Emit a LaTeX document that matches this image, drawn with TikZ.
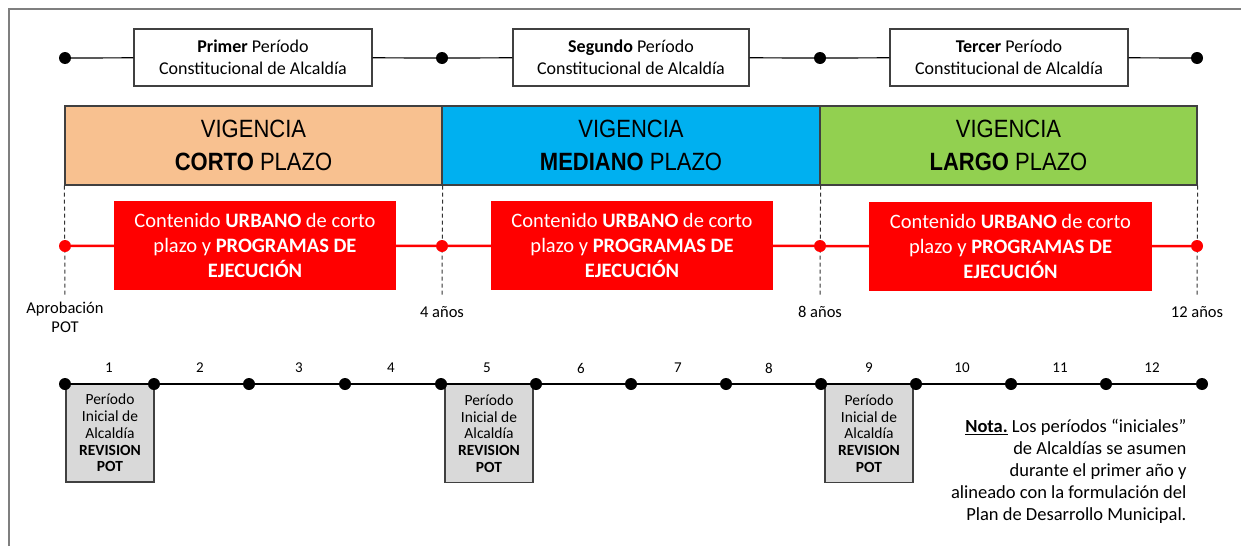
\documentclass[tikz,border=0pt]{standalone}
\usepackage{fontspec}
\setmainfont{Carlito}
\newfontfamily\narrowfont[FakeStretch=0.88]{Liberation Sans}
\definecolor{vigcorto}{RGB}{248,193,144}
\definecolor{vigmediano}{RGB}{0,176,240}
\definecolor{viglargo}{RGB}{146,208,80}
\definecolor{revgray}{RGB}{217,217,217}
\definecolor{boxgray}{RGB}{64,64,64}
\definecolor{framegray}{RGB}{127,127,127}
\begin{document}
\begin{tikzpicture}[x=1pt,y=-1pt,
dot/.style={circle, fill, inner sep=0pt, minimum size=12pt},
reddot/.style={circle, fill=red, inner sep=0pt, minimum size=12pt},
periodo/.style={draw=boxgray, line width=1.2pt, fill=white, minimum width=238pt, minimum height=57pt, align=center, inner sep=0pt, font=\fontsize{18}{22}\selectfont},
vigencia/.style={draw=boxgray, line width=1.2pt, minimum width=377pt, minimum height=79pt, align=center, inner sep=0pt, font=\narrowfont\fontsize{25}{33}\selectfont},
contenido/.style={fill=red, text=white, minimum width=282pt, minimum height=89pt, align=center, inner sep=0pt, font=\fontsize{20.5}{25}\selectfont},
revision/.style={draw=boxgray, line width=1.2pt, fill=revgray, minimum width=88pt, minimum height=98pt, align=center, inner sep=0pt, font=\fontsize{15.5}{16.7}\selectfont},
anio/.style={font=\fontsize{15}{18}\selectfont},
marca/.style={font=\fontsize{16.5}{19}\selectfont, align=center},
nota/.style={font=\fontsize{18.5}{22}\selectfont, align=right},
corte/.style={dash pattern=on 4pt off 3pt, line width=1pt, black!80}]
\useasboundingbox (0,0) rectangle (1241,546);
\draw[framegray, line width=2pt] (9,546) -- (9,9) -- (1241,9);

\node[dot] (d0) at (65,58){};
\node[dot] (d1) at (442,58){};
\node[dot] (d2) at (820,58){};
\node[dot] (d3) at (1197,58){};
\node[periodo] (b1) at (253,57.5){\textbf{Primer} Período\\Constitucional de Alcaldía};
\node[periodo, minimum width=236pt] (b2) at (631,57.5){\textbf{Segundo} Período\\Constitucional de Alcaldía};
\node[periodo] (b3) at (1009,57.5){\textbf{Tercer} Período\\Constitucional de Alcaldía};
\draw[line width=1.2pt] (d0) -- (b1) -- (d1) -- (b2) -- (d2) -- (b3) -- (d3);

\node[vigencia, fill=vigcorto] (vig1) at (253.5,145.5){VIGENCIA\\\textbf{CORTO} PLAZO};
\node[vigencia, fill=vigmediano, minimum width=378pt] (vig2) at (631,145.5){VIGENCIA\\\textbf{MEDIANO} PLAZO};
\node[vigencia, fill=viglargo] (vig3) at (1008.5,145.5){VIGENCIA\\\textbf{LARGO} PLAZO};

\coordinate (e0) at (65,296);
\coordinate (e1) at (442,296);
\coordinate (e2) at (820,296);
\coordinate (e3) at (1197,296);
\draw[corte] (vig1.south west) -- (e0);
\draw[corte] (vig1.south east) -- (e1);
\draw[corte] (vig2.south east) -- (e2);
\draw[corte] (vig3.south east) -- (e3);

\node[reddot] (r0) at (65,246){};
\node[reddot] (r1) at (442,246){};
\node[reddot] (r2) at (820,246){};
\node[reddot] (r3) at (1197,246){};
\node[contenido] (c1) at (255,245.5){Contenido \textbf{URBANO} de corto\\plazo y \textbf{PROGRAMAS DE}\\\textbf{EJECUCIÓN}};
\node[contenido] (c2) at (632,245.5){Contenido \textbf{URBANO} de corto\\plazo y \textbf{PROGRAMAS DE}\\\textbf{EJECUCIÓN}};
\node[contenido, minimum width=283pt] (c3) at (1010.5,246.5){Contenido \textbf{URBANO} de corto\\plazo y \textbf{PROGRAMAS DE}\\\textbf{EJECUCIÓN}};
\draw[red, line width=2.5pt] (r0) -- (c1) -- (r1) -- (c2) -- (r2) -- (c3) -- (r3);

\node[marca] (m0) at (65,317){Aprobación\\POT};
\node[marca] (m1) at (442,312){4 años};
\node[marca] (m2) at (820,312){8 años};
\node[marca] (m3) at (1197,312){12 años};

\node[revision] (g1) at (110,433){Período\\Inicial de\\Alcaldía\\\textbf{REVISION}\\\textbf{POT}};
\node[revision] (g2) at (489,433.5){Período\\Inicial de\\Alcaldía\\\textbf{REVISION}\\\textbf{POT}};
\node[revision] (g3) at (869,433.5){Período\\Inicial de\\Alcaldía\\\textbf{REVISION}\\\textbf{POT}};

\node[dot] (t0) at (65,384){};
\node[dot] (t1) at (154,384){};
\node[dot] (t2) at (249,384){};
\node[dot] (t3) at (345,384){};
\node[dot] (t4) at (441,384){};
\node[dot] (t5) at (536,384){};
\node[dot] (t6) at (631,384){};
\node[dot] (t7) at (726,384){};
\node[dot] (t8) at (821,384){};
\node[dot] (t9) at (916,384){};
\node[dot] (t10) at (1011,384){};
\node[dot] (t11) at (1106,384){};
\node[dot] (t12) at (1202,384){};
\draw[line width=1.5pt] (t0) -- (t1) -- (t2) -- (t3) -- (t4) -- (t5) -- (t6) -- (t7) -- (t8) -- (t9) -- (t10) -- (t11) -- (t12);

\node[anio] (n1) at (109,368){1};
\node[anio] (n2) at (200,368){2};
\node[anio] (n3) at (299,368){3};
\node[anio] (n4) at (391,368){4};
\node[anio] (n5) at (487,368){5};
\node[anio] (n6) at (581,368){6};
\node[anio] (n7) at (678,368){7};
\node[anio] (n8) at (769,368){8};
\node[anio] (n9) at (869,368){9};
\node[anio] (n10) at (962,368){10};
\node[anio] (n11) at (1060,368){11};
\node[anio] (n12) at (1152,368){12};

\node[nota, anchor=east] (nota) at (1190,471.5){\textbf{\underline{Nota.}} Los períodos “iniciales”\\de Alcaldías se asumen\\durante el primer año y\\alineado con la formulación del\\Plan de Desarrollo Municipal.};
\end{tikzpicture}
\end{document}
